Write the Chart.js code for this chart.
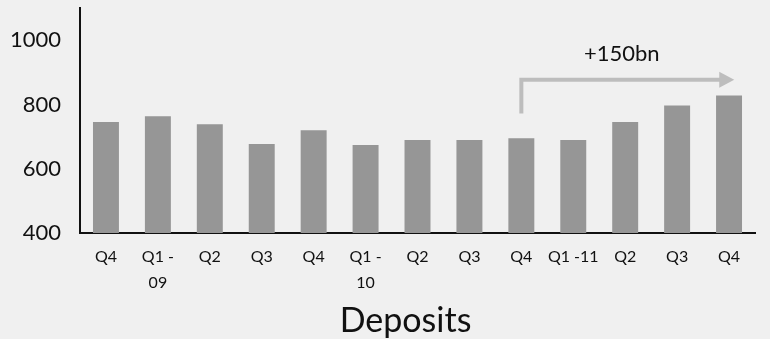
<!DOCTYPE html>
<html>
<head>
<meta charset="utf-8">
<script src="https://cdn.jsdelivr.net/npm/chart.js@4/dist/chart.umd.min.js"></script>
<style>
  html, body { margin: 0; padding: 0; background: #f0f0f0; }
  #wrap { width: 770px; height: 339px; position: relative; }
</style>
</head>
<body>
<div id="wrap"><canvas id="c"></canvas></div>
<script>
// ---- data ----
const categories = [["Q4"], ["Q1 -", "09"], ["Q2"], ["Q3"], ["Q4"], ["Q1 -", "10"], ["Q2"], ["Q3"], ["Q4"], ["Q1 -11"], ["Q2"], ["Q3"], ["Q4"]];
const deposits = [745, 763, 738, 677, 720, 674, 689, 689, 695, 689, 745, 797, 828];
const yTicks = [400, 600, 800, 1000];
const axisTitle = "Deposits";
// growth arrow annotation (in data terms)
const arrowLabel = "+150bn";
const arrowFromIndex = 8;
const arrowToIndex = 12.1;
const arrowBaseValue = 772;
const arrowTopValue = 877;

const arrowPlugin = {
  id: 'growthArrow',
  afterDatasetsDraw(chart) {
    const ctx = chart.ctx, xs = chart.scales.x, ys = chart.scales.y;
    const x0 = xs.getPixelForValue(arrowFromIndex);
    const x1 = xs.getPixelForValue(arrowToIndex);
    const yb = ys.getPixelForValue(arrowBaseValue);
    const yt = ys.getPixelForValue(arrowTopValue);
    ctx.save();
    ctx.strokeStyle = '#bdbdbd';
    ctx.fillStyle = '#bdbdbd';
    ctx.lineWidth = 4;
    ctx.beginPath();
    ctx.moveTo(x0, yb);
    ctx.lineTo(x0, yt);
    ctx.lineTo(x1 - 14, yt);
    ctx.stroke();
    ctx.beginPath();
    ctx.moveTo(x1 - 15, yt - 8);
    ctx.lineTo(x1, yt);
    ctx.lineTo(x1 - 15, yt + 8);
    ctx.closePath();
    ctx.fill();
    ctx.fillStyle = '#111';
    ctx.font = '22px Lato';
    ctx.textAlign = 'center';
    ctx.textBaseline = 'middle';
    ctx.fillText(arrowLabel, (x0 + x1) / 2 - 6, yt - 26);
    // axis title below the tick labels
    ctx.font = '34px Lato';
    ctx.fillText(axisTitle, (chart.chartArea.left + chart.chartArea.right) / 2 - 12, 321);
    ctx.restore();
  }
};

new Chart(document.getElementById('c'), {
  type: 'bar',
  data: {
    labels: categories,
    datasets: [{
      data: deposits,
      backgroundColor: '#969696',
      categoryPercentage: 1,
      barPercentage: 0.5
    }]
  },
  options: {
    responsive: true,
    maintainAspectRatio: false,
    animation: false,
    layout: { padding: { top: 8, right: 15, left: 0, bottom: 0 } },
    plugins: { legend: { display: false }, tooltip: { enabled: false } },
    scales: {
      x: {
        grid: { display: false, drawTicks: false },
        border: { color: '#111', width: 2 },
        ticks: {
          color: '#111', padding: 11, maxRotation: 0, autoSkip: false,
          font: { family: 'Lato', size: 16, lineHeight: 1.6 }
        },
        afterFit(s) { s.height = 106; s.paddingLeft = 0; s.paddingRight = 0; }
      },
      y: {
        min: 400, max: 1100,
        grid: { display: false, drawTicks: false },
        border: { color: '#111', width: 2 },
        ticks: {
          color: '#111', padding: 19,
          font: { family: 'Lato', size: 22 },
          callback: v => String(v)
        },
        afterBuildTicks(s) { s.ticks = yTicks.map(v => ({ value: v })); },
        afterFit(s) { s.width = 80; s.paddingTop = 0; s.paddingBottom = 0; }
      }
    }
  },
  plugins: [arrowPlugin]
});
</script>
</body>
</html>
